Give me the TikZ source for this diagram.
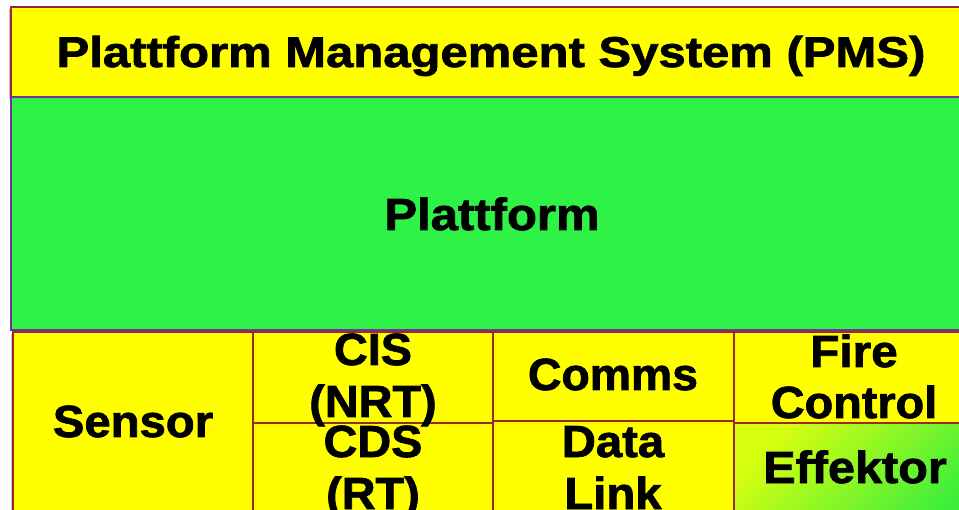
\documentclass[tikz,border=0pt]{standalone}
\usepackage{fontspec}
\setmainfont{Liberation Sans}
\newfontfamily\heavy[FakeBold=1.6]{Liberation Sans Bold}
\definecolor{bordred}{HTML}{9A2A2A}
\definecolor{bordpurp}{HTML}{7030A0}
\definecolor{ylw}{HTML}{FFFF00}
\definecolor{grn}{HTML}{2EF246}
\definecolor{effA}{HTML}{D8FF10}
\definecolor{effB}{HTML}{3CEE3C}
\newcommand{\sx}[2]{\scalebox{#1}[1]{#2}}
\tikzset{
  cellbox/.style={fill=ylw, draw=bordred, line width=2pt},
  greenbox/.style={fill=grn, draw=bordpurp, line width=2pt},
  lbl/.style={anchor=base, inner sep=0pt, font=\fontsize{45}{52}\selectfont\heavy},
  ttl/.style={anchor=base, inner sep=0pt, font=\fontsize{43}{50}\selectfont\heavy}
}
\begin{document}
\begin{tikzpicture}[x=1pt, y=-1pt]
\useasboundingbox (0,0) rectangle (959,510);
\fill[white] (0,0) rectangle (959,510);
\begin{scope}
\clip (0,0) rectangle (959,510);
% soft shadows
\fill[black!25] (9,9) rectangle (973,99);
\fill[black!25] (11,334) rectangle (973,530);
% top box
\draw[cellbox] (11,7) rectangle (975,97);
% platform
\draw[greenbox] (11,97) rectangle (975,330);
% bottom row
\draw[cellbox] (13,332) rectangle (253,530);
\draw[cellbox] (253,332) rectangle (493,423);
\draw[cellbox] (253,423) rectangle (493,530);
\draw[cellbox] (493,332) rectangle (734,421);
\draw[cellbox] (493,421) rectangle (734,530);
\draw[cellbox] (734,332) rectangle (975,423);
\shade[top color=effA, bottom color=effB, shading angle=45] (735,424) rectangle (975,530);
\draw[draw=bordred, line width=2pt] (734,423) rectangle (975,530);
\end{scope}
% texts
\node[ttl] (pms) at (491,67) {\sx{1.14}{Plattform Management System (PMS)}};
\node[lbl] (plattform) at (492,230) {\sx{1.09}{Plattform}};
\node[lbl] (sensor) at (133,437) {\sx{1.05}{Sensor}};
\node[lbl] (cis1) at (373,365) {\sx{1.04}{CIS}};
\node[lbl] (cis2) at (373,417) {\sx{1.04}{(NRT)}};
\node[lbl] (cds1) at (373,457) {\sx{1.04}{CDS}};
\node[lbl] (cds2) at (373,509) {\sx{1.04}{(RT)}};
\node[lbl] (comms) at (613,390) {\sx{1.03}{Comms}};
\node[lbl] (data) at (613,457) {\sx{1.05}{Data}};
\node[lbl] (link) at (613,509) {\sx{1.05}{Link}};
\node[lbl] (fire) at (854,367) {\sx{1.06}{Fire}};
\node[lbl] (control) at (854,418) {\sx{1.04}{Control}};
\node[lbl] (effektor) at (855,483) {\sx{1.08}{Effektor}};
\end{tikzpicture}
\end{document}
